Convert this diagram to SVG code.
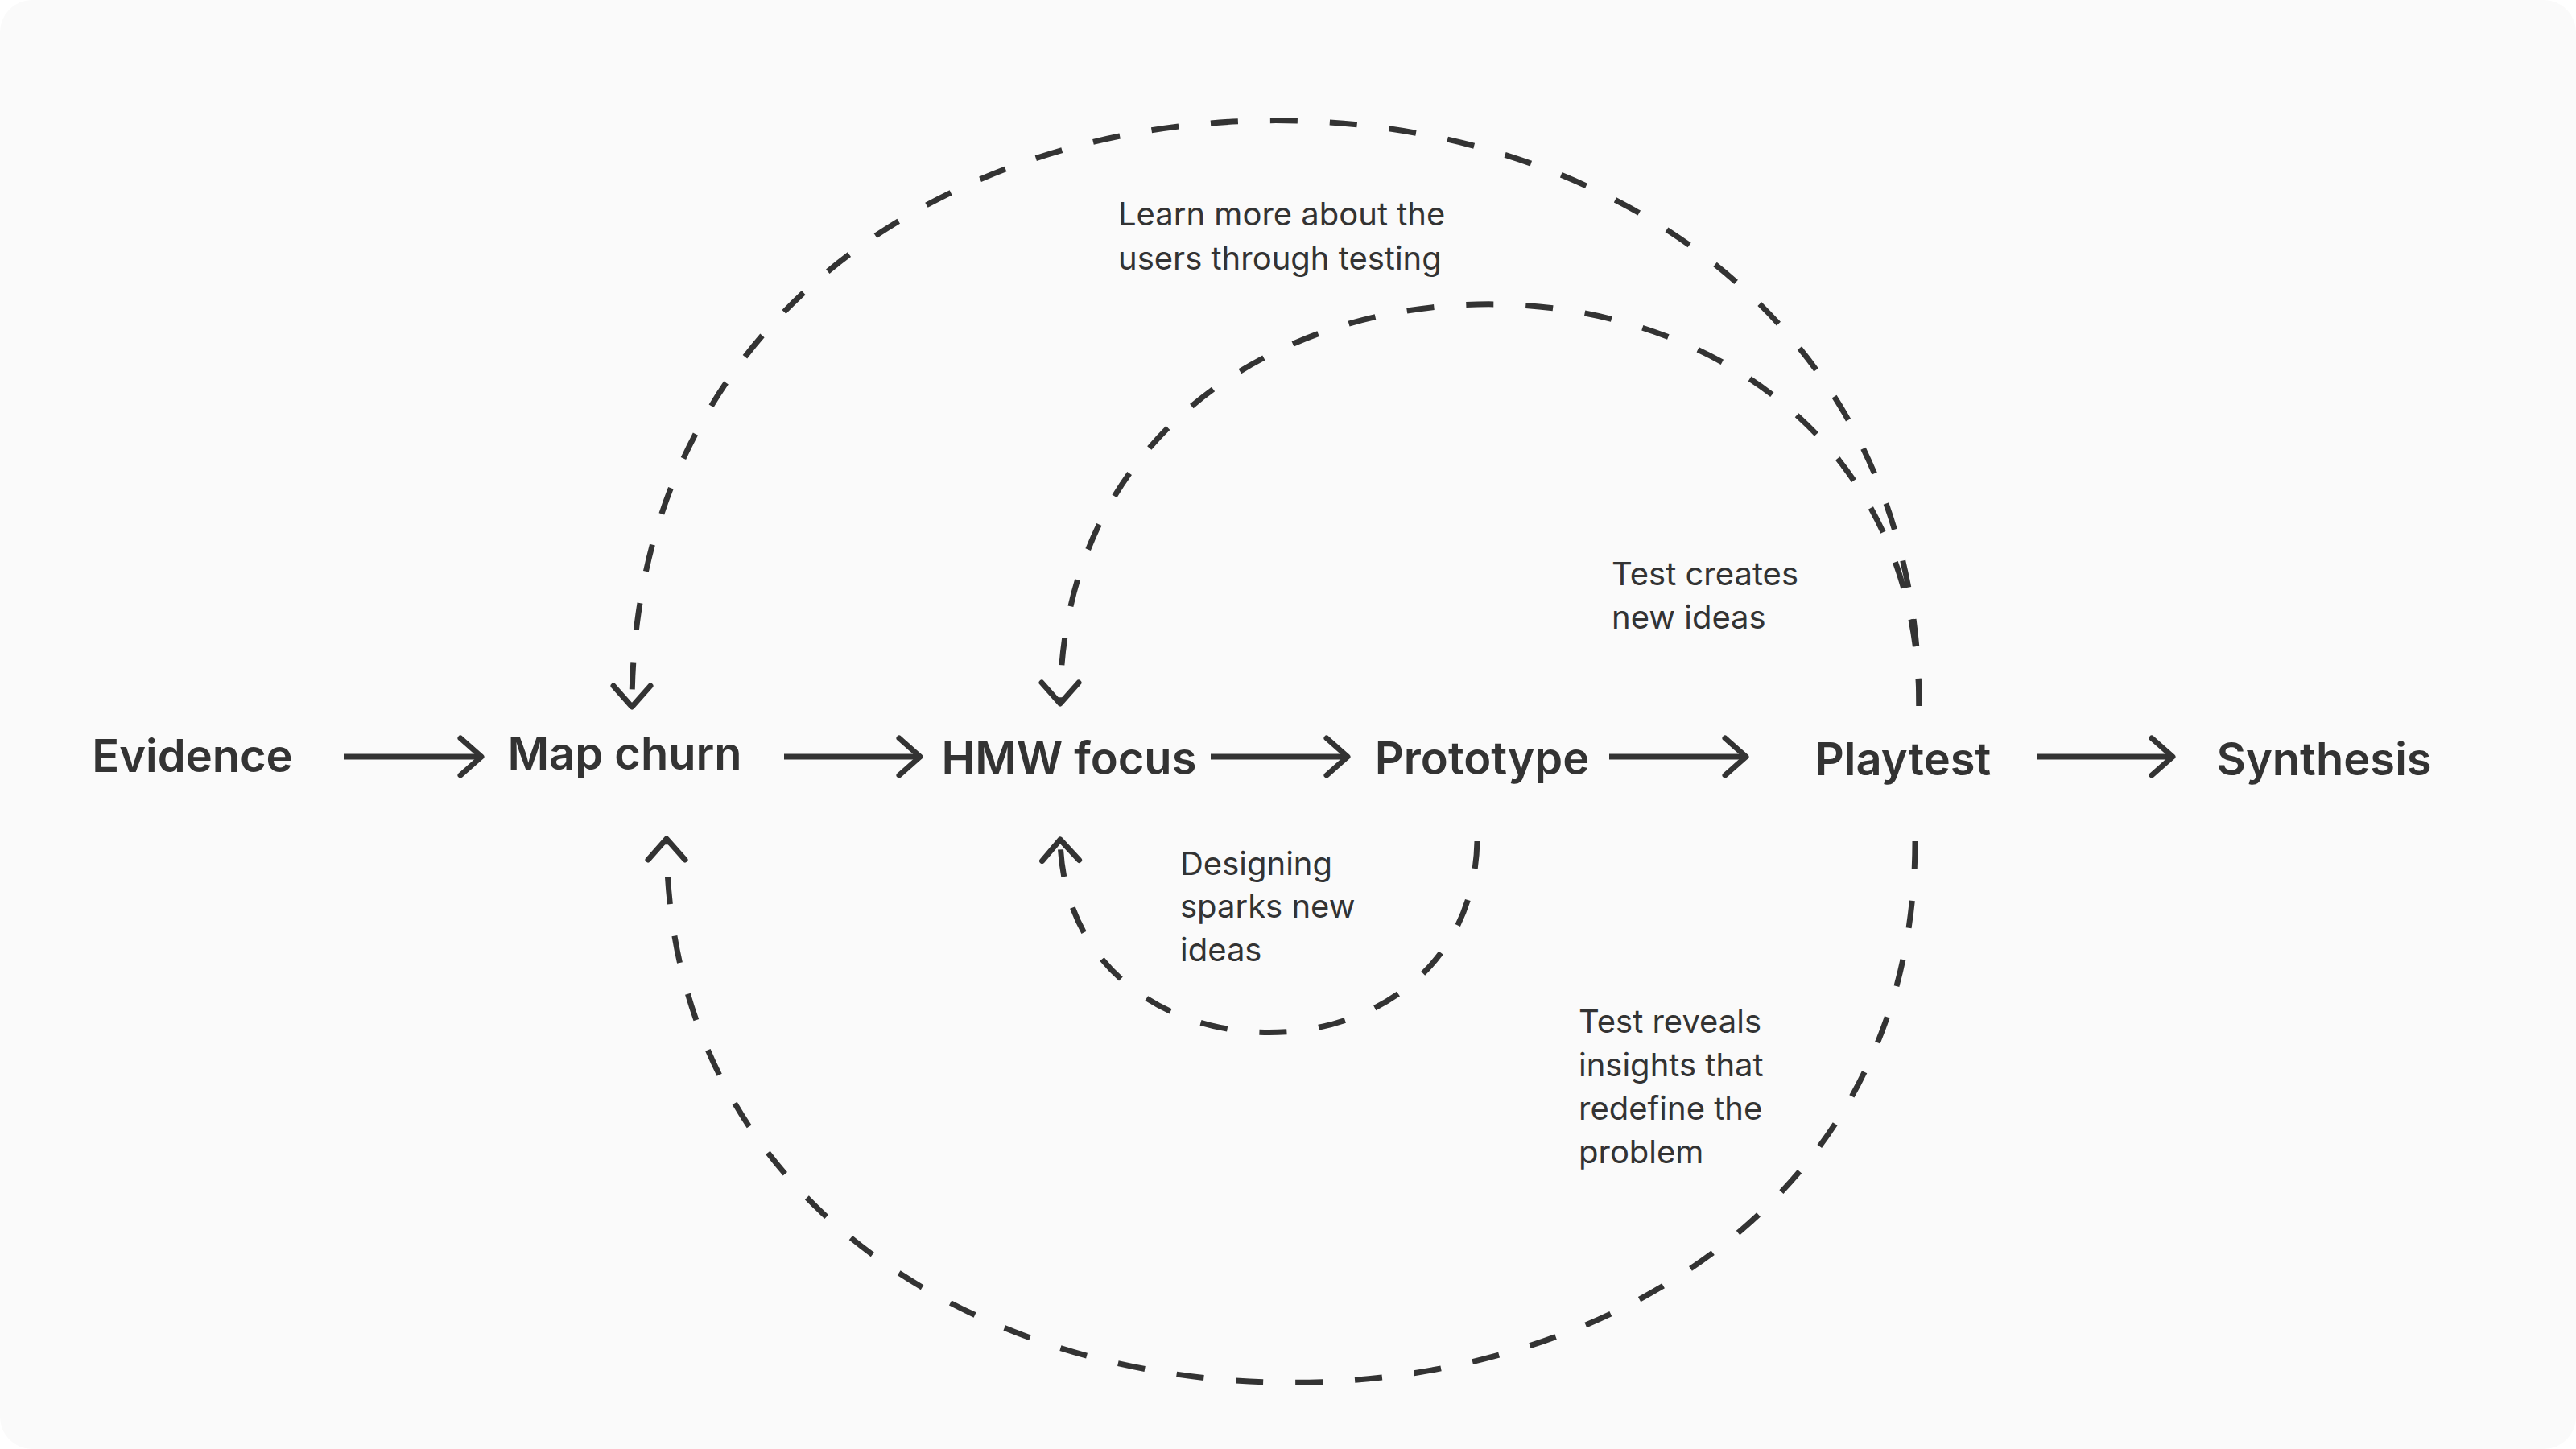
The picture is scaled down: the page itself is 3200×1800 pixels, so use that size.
<svg xmlns="http://www.w3.org/2000/svg" width="3200" height="1800" viewBox="0 0 3200 1800">
  <defs>
    <style>
      .node { font-family: Inter, "Noto Sans", "Liberation Sans", sans-serif; font-weight: 600; font-size: 56px; fill: #333333; text-anchor: middle; }
      .label { font-family: Inter, "Noto Sans", "Liberation Sans", sans-serif; font-weight: 400; font-size: 40px; fill: #333333; }
      .flow { stroke: #333333; stroke-width: 7; fill: none; }
      .loop { stroke: #333333; stroke-width: 7; fill: none; stroke-dasharray: 34 40; }
    </style>
    <marker id="chev" markerUnits="userSpaceOnUse" markerWidth="60" markerHeight="60" refX="0" refY="0" orient="auto" overflow="visible">
      <path d="M -26 -23 L 0 0 L -26 23" fill="none" stroke="#333333" stroke-width="7" stroke-linecap="round" stroke-linejoin="round"/>
    </marker>
  </defs>

  <rect x="0" y="0" width="3200" height="1800" fill="#ffffff"/>
  <rect x="0" y="0" width="3200" height="1800" rx="40" ry="40" fill="#fafafa"/>

  <g id="connectors">
    <path class="flow" d="M 427 940 L 598 940" marker-end="url(#chev)"/>
    <path class="flow" d="M 974 940 L 1143 940" marker-end="url(#chev)"/>
    <path class="flow" d="M 1504 940 L 1674 940" marker-end="url(#chev)"/>
    <path class="flow" d="M 1999 940 L 2169 940" marker-end="url(#chev)"/>
    <path class="flow" d="M 2530 940 L 2699 940" marker-end="url(#chev)"/>

    <path class="loop" d="M 2384 877 C 2384 -93 785 -93 785 878" marker-end="url(#chev)"/>
    <path class="loop" d="M 2384 877 C 2384 212 1317 212 1317 874" marker-end="url(#chev)"/>
    <path class="loop" d="M 2379 1045 C 2379 1942 828 1942 828 1042" marker-end="url(#chev)"/>
    <path class="loop" d="M 1835 1045 C 1828 1362 1324 1362 1317 1043" marker-end="url(#chev)"/>
  </g>

  <g id="node-evidence"><text class="node" x="239" y="959">Evidence</text></g>
  <g id="node-map-churn"><text class="node" x="776" y="956">Map churn</text></g>
  <g id="node-hmw-focus"><text class="node" x="1328" y="962">HMW focus</text></g>
  <g id="node-prototype"><text class="node" x="1841" y="962">Prototype</text></g>
  <g id="node-playtest"><text class="node" x="2364" y="963">Playtest</text></g>
  <g id="node-synthesis"><text class="node" x="2887" y="963">Synthesis</text></g>

  <g id="labels">
    <text class="label" x="1389" y="280">Learn more about the</text>
    <text class="label" x="1389" y="335">users through testing</text>
    <text class="label" x="2002" y="727">Test creates</text>
    <text class="label" x="2002" y="781">new ideas</text>
    <text class="label" x="1466" y="1087">Designing</text>
    <text class="label" x="1466" y="1140">sparks new</text>
    <text class="label" x="1466" y="1194">ideas</text>
    <text class="label" x="1961" y="1283">Test reveals</text>
    <text class="label" x="1961" y="1337">insights that</text>
    <text class="label" x="1961" y="1391">redefine the</text>
    <text class="label" x="1961" y="1445">problem</text>
  </g>
</svg>
